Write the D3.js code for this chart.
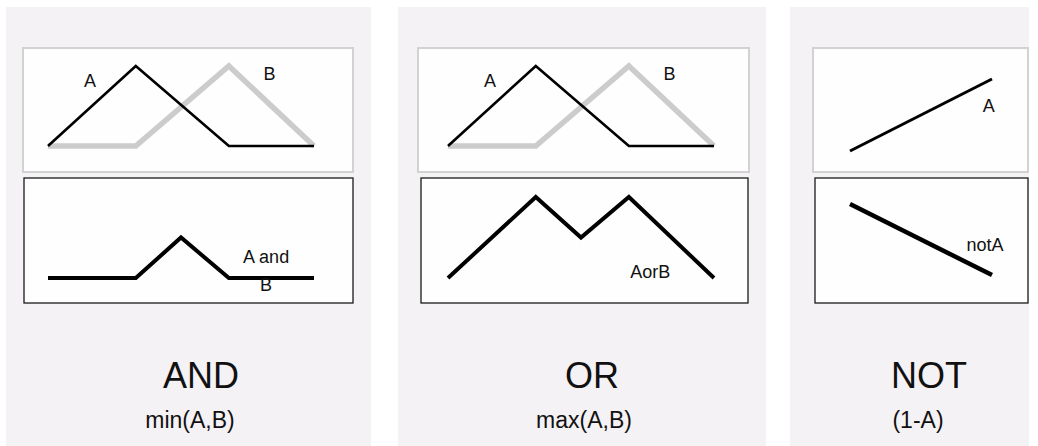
<!DOCTYPE html>
<html>
<head>
<meta charset="utf-8">
<script src="https://cdn.jsdelivr.net/npm/d3@7"></script>
<style>
  html, body { margin: 0; padding: 0; background: #ffffff; }
  svg { display: block; font-family: "Liberation Sans", Arial, Helvetica, sans-serif; }
</style>
</head>
<body>
<div id="chart"></div>
<script>
// Fuzzy logic operators: membership functions and their combinations
const operators = ["AND", "OR", "NOT"];
const formulas = ["min(A,B)", "max(A,B)", "(1-A)"];

// Input memberships (x in 0..100, membership in 0..1)
const inputX = [0, 33, 68, 100];
const inputA = [0, 1, 0, 0];
const inputB = [0, 0, 1, 0];

// Results of AND / OR
const andX = [0, 33, 50, 68, 100];
const andY = [0, 0, 0.5, 0, 0];
const orX = [0, 33, 50, 68, 100];
const orY = [0, 1, 0.5, 1, 0];

// NOT: a single rising membership and its complement
const notX = [0, 100];
const notInA = [0.1, 0.9];
const notOutY = [0.9, 0.1];

// Text labels on the curves
const inputLabels = ["A", "B"];
const andLabel = ["A and", "B"];
const orLabel = "AorB";
const notInLabel = "A";
const notOutLabel = "notA";

const W = 1038, H = 446;
const svg = d3.select("#chart").append("svg")
  .attr("width", W).attr("height", H);

svg.append("rect").attr("width", W).attr("height", H).attr("fill", "#ffffff");

// Panel geometry
const panels = [
  { x0: 6,   x1: 371,  top: [23, 353], bot: [24, 353], plot: [48, 314],  title: 201, sub: 190 },
  { x0: 398, x1: 766,  top: [418, 749], bot: [421, 748], plot: [448, 714], title: 592, sub: 584 },
  { x0: 790, x1: 1029, top: [813, 1028], bot: [815, 1028], plot: [850, 992], title: 929, sub: 918 }
];

const topBox = [48, 172], botBox = [178, 303];

const panelG = svg.selectAll("g.panel").data(panels).join("g").attr("class", "panel");

panelG.append("rect")
  .attr("x", d => d.x0).attr("y", 7)
  .attr("width", d => d.x1 - d.x0).attr("height", H - 7)
  .attr("fill", "#f5f2f5");

panelG.append("rect")
  .attr("x", d => d.top[0]).attr("y", topBox[0])
  .attr("width", d => d.top[1] - d.top[0]).attr("height", topBox[1] - topBox[0])
  .attr("fill", "#fefefe").attr("stroke", "#d2d2d2").attr("stroke-width", 2);

panelG.append("rect")
  .attr("x", d => d.bot[0]).attr("y", botBox[0])
  .attr("width", d => d.bot[1] - d.bot[0]).attr("height", botBox[1] - botBox[0])
  .attr("fill", "#fefefe").attr("stroke", "#1a1a1a").attr("stroke-width", 1.3);

panelG.append("text")
  .attr("x", d => d.title).attr("y", 388)
  .attr("text-anchor", "middle").attr("font-size", 36).attr("fill", "#111")
  .text((d, i) => operators[i]);

panelG.append("text")
  .attr("x", d => d.sub).attr("y", 428)
  .attr("text-anchor", "middle").attr("font-size", 23).attr("fill", "#111")
  .text((d, i) => formulas[i]);

// Scales shared by the AND and OR panels
const yTop = d3.scaleLinear().domain([0, 1]).range([146, 66]);
const yBot = d3.scaleLinear().domain([0, 1]).range([278, 197]);
// NOT panel scales
const yNotTop = d3.scaleLinear().domain([0, 1]).range([160, 70]);
const yNotBot = d3.scaleLinear().domain([0, 1]).range([284, 195]);

function drawLine(xs, ys, xScale, yScale, color, width) {
  const line = d3.line().x(d => xScale(d[0])).y(d => yScale(d[1]));
  svg.append("path")
    .datum(xs.map((x, i) => [x, ys[i]]))
    .attr("d", line)
    .attr("fill", "none")
    .attr("stroke", color)
    .attr("stroke-width", width)
    .attr("stroke-linejoin", "miter")
    .attr("stroke-linecap", "butt");
}

function label(x, y, txt) {
  svg.append("text").attr("x", x).attr("y", y)
    .attr("font-size", 18).attr("fill", "#111").text(txt);
}

// AND and OR panels: inputs on top, result below
[0, 1].forEach(p => {
  const xs = d3.scaleLinear().domain([0, 100]).range(panels[p].plot);
  drawLine(inputX, inputB, xs, yTop, "#cccccc", 5.5);
  drawLine(inputX, inputA, xs, yTop, "#000000", 2.6);
  label(xs(13.5), 87, inputLabels[0]);
  label(xs(81), 80, inputLabels[1]);
  if (p === 0) {
    drawLine(andX, andY, xs, yBot, "#000000", 4);
    svg.append("text").attr("x", xs(82)).attr("y", 263)
      .attr("text-anchor", "middle").attr("font-size", 18).attr("fill", "#111")
      .selectAll("tspan").data(andLabel).join("tspan")
      .attr("x", xs(82)).attr("dy", (d, i) => i ? 28 : 0).text(d => d);
  } else {
    drawLine(orX, orY, xs, yBot, "#000000", 4);
    label(xs(68.5), 278, orLabel);
  }
});

// NOT panel
{
  const xs = d3.scaleLinear().domain([0, 100]).range(panels[2].plot);
  drawLine(notX, notInA, xs, yNotTop, "#000000", 3);
  drawLine(notX, notOutY, xs, yNotBot, "#000000", 4.5);
  label(xs(93.5), 112, notInLabel);
  label(xs(82), 251, notOutLabel);
}
</script>
</body>
</html>
